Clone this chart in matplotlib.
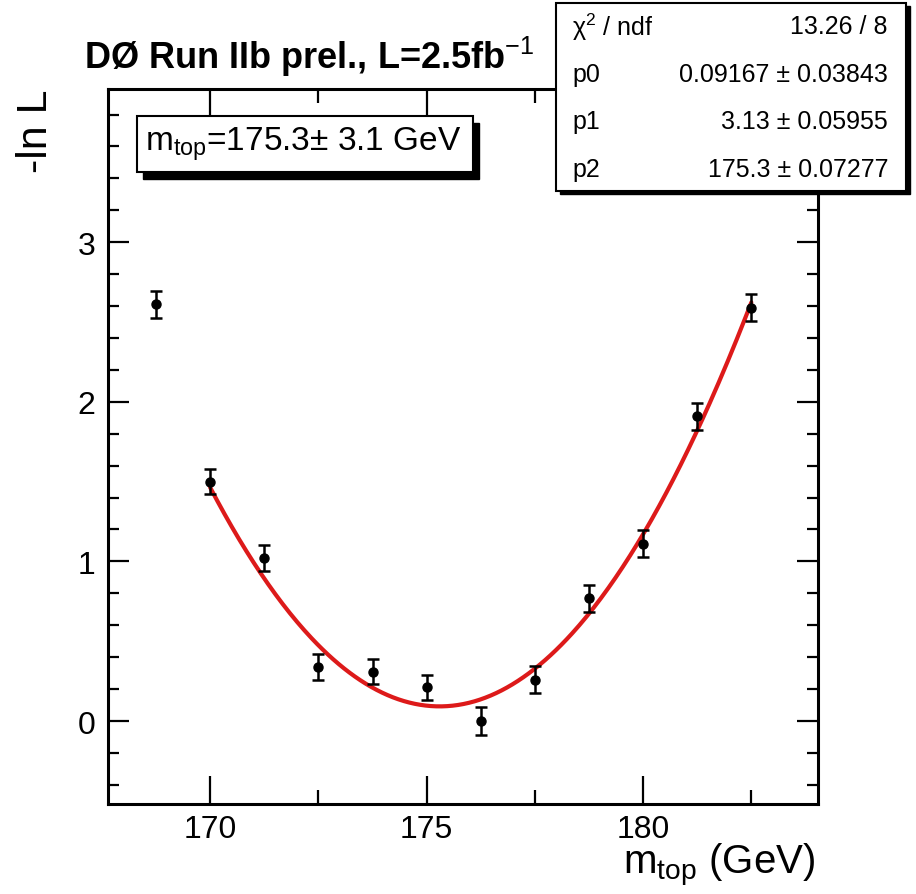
import numpy as np
import matplotlib
matplotlib.use("Agg")
from matplotlib import pyplot as plt
from matplotlib.patches import Rectangle

# fonts: Helvetica-like look of the ROOT canvas
plt.rcParams['font.family'] = ['Liberation Sans', 'DejaVu Sans']
plt.rcParams['mathtext.fontset'] = 'custom'
plt.rcParams['mathtext.rm'] = 'Liberation Sans'
plt.rcParams['mathtext.it'] = 'Liberation Sans:italic'
plt.rcParams['mathtext.bf'] = 'Liberation Sans:bold'

# data
mtop = [168.75, 170.0, 171.25, 172.5, 173.75, 175.0, 176.25, 177.5, 178.75, 180.0, 181.25, 182.5]
nll = [2.61, 1.50, 1.02, 0.34, 0.31, 0.21, 0.00, 0.26, 0.77, 1.11, 1.91, 2.59]
nll_err = [0.085, 0.08, 0.08, 0.08, 0.08, 0.08, 0.09, 0.087, 0.085, 0.085, 0.085, 0.085]

# fit results (stats box) and visible curve
fit_labels = ['\u03c7$^2$ / ndf', 'p0', 'p1', 'p2']
fit_values = ['13.26 / 8', '0.09167 \u00b1 0.03843', '3.13 \u00b1 0.05955', '175.3 \u00b1 0.07277']
p0, p2 = 0.09167, 175.3
width_seen = 3.2   # width of the drawn parabola
fit_range = (170.0, 182.5)

W, H = 916, 895
fig = plt.figure(figsize=(W/100, H/100), dpi=100)
ax = fig.add_axes([108/W, 1-805/H, 710/W, 715/H])

# fitted parabola
xf = np.linspace(fit_range[0], fit_range[1], 300)
yf = p0 + (xf - p2)**2 / (2*width_seen**2)
ax.plot(xf, yf, color='#dd1a1a', lw=3.0, zorder=2, solid_capstyle='round')

# points with errors
ax.errorbar(mtop, nll, yerr=nll_err, fmt='o', color='black', ms=6.5,
            elinewidth=1.8, capsize=4, capthick=1.8, zorder=3)

ax.set_xlim(167.64, 184.04)
ax.set_ylim(-0.52, 3.96)
ax.set_xticks([170, 175, 180])
ax.set_xticks([172.5, 177.5, 182.5], minor=True)
ax.set_yticks([0, 1, 2, 3])
ax.set_yticks(np.arange(-0.4, 3.95, 0.2), minor=True)
ax.tick_params(axis='x', which='major', direction='in', length=20, width=1.6,
               top=True, labelsize=23, pad=7)
ax.tick_params(axis='x', which='minor', direction='in', length=10, width=1.6, top=True)
ax.tick_params(axis='y', which='major', direction='in', length=15, width=1.6,
               right=True, labelsize=23, pad=9)
ax.tick_params(axis='y', which='minor', direction='in', length=8, width=1.6, right=True)
for s in ax.spines.values():
    s.set_linewidth(2.2)

# axis titles and header
fig.text(815/W, 1-866/H, 'm$_{\\mathrm{top}}$ (GeV)', fontsize=29, ha='right', va='center')
fig.text(36/W, 1-131/H, '-ln L', fontsize=31, rotation=90, ha='center', va='center')
fig.text(84/W, 1-57/H, 'D\u00d8 Run IIb prel., L=2.5fb$^{-1}$', fontsize=26,
         fontweight='bold', ha='left', va='center')

# m_top box with shadow
fig.patches.append(Rectangle((143/W, 1-180/H), 336/W, 56/H, transform=fig.transFigure,
                             facecolor='black', edgecolor='black', zorder=5))
fig.patches.append(Rectangle((137/W, 1-173/H), 336/W, 56/H, transform=fig.transFigure,
                             facecolor='white', edgecolor='black', lw=1.5, zorder=6))
fig.text(145/W, 1-144/H, 'm$_{\\mathrm{top}}$=175.3\u00b1 3.1 GeV', fontsize=24,
         ha='left', va='center', zorder=7)

# stats box with shadow
fig.patches.append(Rectangle((560/W, 1-195/H), 350/W, 188/H, transform=fig.transFigure,
                             facecolor='black', edgecolor='black', zorder=5))
fig.patches.append(Rectangle((556/W, 1-192/H), 350/W, 188/H, transform=fig.transFigure,
                             facecolor='white', edgecolor='black', lw=1.5, zorder=6))
rows_y = [27, 75, 122, 170]
for lab, val, yy in zip(fit_labels, fit_values, rows_y):
    fig.text(572/W, 1-yy/H, lab, fontsize=18, ha='left', va='center', zorder=7)
    fig.text(888/W, 1-yy/H, val, fontsize=18, ha='right', va='center', zorder=7)

fig.savefig('out.png', dpi=100)
